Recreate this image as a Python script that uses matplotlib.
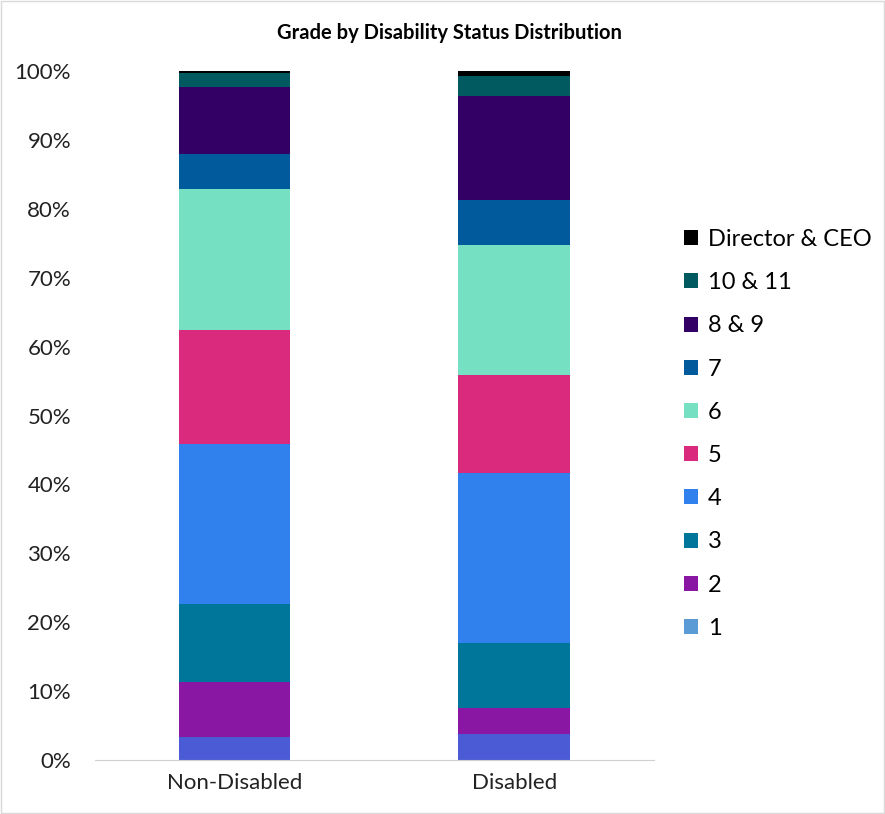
import matplotlib.pyplot as plt
from matplotlib.patches import Patch, Rectangle
from matplotlib.ticker import PercentFormatter

plt.rcParams['font.family'] = ['Lato', 'DejaVu Sans']

categories = ['Non-Disabled', 'Disabled']
grades = ['1', '2', '3', '4', '5', '6', '7', '8 & 9', '10 & 11', 'Director & CEO']
# share of staff in each grade (%), bottom to top
shares = {
    'Non-Disabled': [3.4, 7.9, 11.3, 23.3, 16.5, 20.5, 5.0, 9.8, 2.0, 0.3],
    'Disabled':     [3.8, 3.8, 9.4, 24.7, 14.2, 18.8, 6.6, 15.1, 2.8, 0.8],
}
bar_colors = ['#4B5BD5', '#8A17A3', '#00779A', '#3080EE', '#D92A7D',
              '#76E0C3', '#015A9C', '#330066', '#015A5F', '#000000']
legend_colors = ['#5B9BD5'] + bar_colors[1:]

fig = plt.figure(figsize=(8.85, 8.14), dpi=100)
ax = fig.add_axes([0.107, 0.0663, 0.632, 0.8465])

x = range(len(categories))
bottoms = [0.0] * len(categories)
for i, g in enumerate(grades):
    vals = [shares[c][i] for c in categories]
    ax.bar(x, vals, width=0.4, bottom=bottoms, color=bar_colors[i])
    bottoms = [b + v for b, v in zip(bottoms, vals)]

ax.set_xlim(-0.5, 1.5)
ax.set_ylim(0, 100)
ax.set_yticks(range(0, 101, 10))
ax.yaxis.set_major_formatter(PercentFormatter(decimals=0))
ax.set_xticks(list(x))
ax.set_xticklabels(categories)
ax.tick_params(axis='both', length=0, labelsize=16, colors='#222222')
ax.tick_params(axis='x', pad=9)
ax.tick_params(axis='y', pad=17)
for s in ['left', 'right', 'top']:
    ax.spines[s].set_visible(False)
ax.spines['bottom'].set_color('#d0d0d0')

fig.text(0.508, 0.960, 'Grade by Disability Status Distribution',
         ha='center', va='center', fontsize=14.5, fontweight='bold')

handles = [Patch(facecolor=legend_colors[i], label=grades[i]) for i in range(len(grades))][::-1]
fig.legend(handles=handles, loc='center left', bbox_to_anchor=(0.749, 0.467),
           frameon=False, fontsize=17, handlelength=0.6, handleheight=0.6,
           handletextpad=0.4, labelspacing=0.94)

fig.patches.append(Rectangle((0.001, 0.001), 0.998, 0.998, transform=fig.transFigure,
                             fill=False, edgecolor='#d9d9d9', linewidth=1))

fig.savefig('out.png', dpi=100)
